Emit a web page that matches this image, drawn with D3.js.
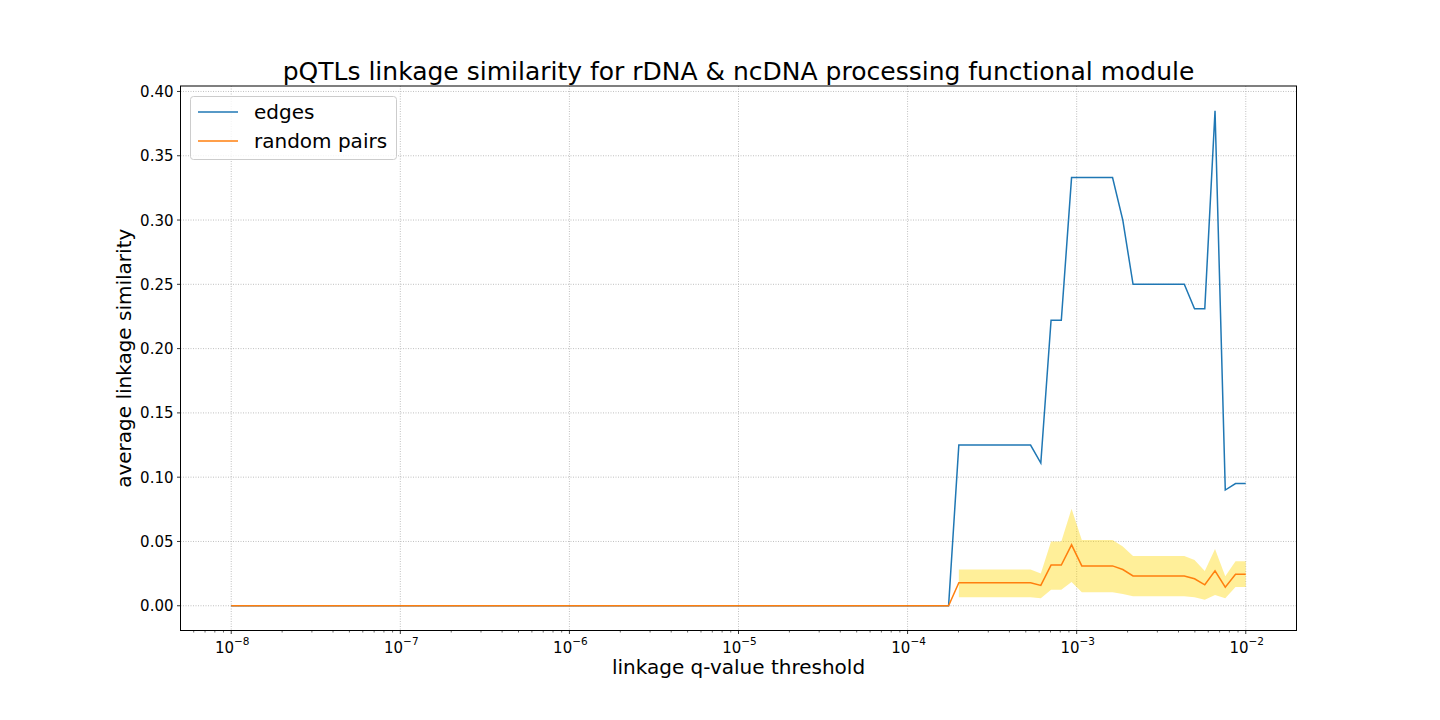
<!DOCTYPE html>
<html>
<head>
<meta charset="utf-8">
<script src="https://cdn.jsdelivr.net/npm/d3@7"></script>
<style>
  body { margin: 0; background: #fff; }
  svg { display: block; font-family: "DejaVu Sans", sans-serif; }
</style>
</head>
<body>
<svg id="chart" width="1440" height="720"></svg>
<script>
// ---- data ----
// q-value thresholds: 100 log-spaced thresholds from 1e-8 to 1e-2 (the evaluation grid)
const thresholdExpStart = -8, thresholdExpEnd = -2, thresholdCount = 100;
const thresholds = d3.range(thresholdCount).map(i =>
  Math.pow(10, thresholdExpStart + (thresholdExpEnd - thresholdExpStart) * i / (thresholdCount - 1)));

const edges = [
  0,0,0,0,0,0,0,0,0,0, 0,0,0,0,0,0,0,0,0,0,
  0,0,0,0,0,0,0,0,0,0, 0,0,0,0,0,0,0,0,0,0,
  0,0,0,0,0,0,0,0,0,0, 0,0,0,0,0,0,0,0,0,0,
  0,0,0,0,0,0,0,0,0,0, 0,
  0.125,0.125,0.125,0.125,0.125,0.125,0.125,0.125,
  0.111,
  0.222,0.222,
  0.333,0.333,0.333,0.333,0.333,
  0.30,
  0.25,0.25,0.25,0.25,0.25,0.25,
  0.231,0.231,
  0.385,
  0.09,
  0.095,0.095
];

const randomPairs = [
  0,0,0,0,0,0,0,0,0,0, 0,0,0,0,0,0,0,0,0,0,
  0,0,0,0,0,0,0,0,0,0, 0,0,0,0,0,0,0,0,0,0,
  0,0,0,0,0,0,0,0,0,0, 0,0,0,0,0,0,0,0,0,0,
  0,0,0,0,0,0,0,0,0,0, 0,
  0.0179,0.0179,0.0179,0.0179,0.0179,0.0179,0.0179,0.0179,
  0.0158,
  0.0316,0.0316,
  0.0474,
  0.031,0.031,0.031,0.031,
  0.0282,
  0.0232,0.0232,0.0232,0.0232,0.0232,0.0232,
  0.021,
  0.0163,
  0.0271,
  0.0145,
  0.0245,0.0245
];

const N = null;
const randomUpper = [
  N,N,N,N,N,N,N,N,N,N, N,N,N,N,N,N,N,N,N,N,
  N,N,N,N,N,N,N,N,N,N, N,N,N,N,N,N,N,N,N,N,
  N,N,N,N,N,N,N,N,N,N, N,N,N,N,N,N,N,N,N,N,
  N,N,N,N,N,N,N,N,N,N, N,
  0.0282,0.0282,0.0282,0.0282,0.0282,0.0282,0.0282,0.0282,
  0.025,
  0.05,0.05,
  0.0755,
  0.0511,0.0511,0.0511,0.0511,
  0.046,
  0.0387,0.0387,0.0387,0.0387,0.0387,0.0387,
  0.0355,
  0.0271,
  0.0442,
  0.0229,
  0.0347,0.0347
];
const randomLower = [
  N,N,N,N,N,N,N,N,N,N, N,N,N,N,N,N,N,N,N,N,
  N,N,N,N,N,N,N,N,N,N, N,N,N,N,N,N,N,N,N,N,
  N,N,N,N,N,N,N,N,N,N, N,N,N,N,N,N,N,N,N,N,
  N,N,N,N,N,N,N,N,N,N, N,
  0.0066,0.0066,0.0066,0.0066,0.0066,0.0066,0.0066,0.0066,
  0.0058,
  0.0124,0.0124,
  0.0184,
  0.0105,0.0105,0.0105,0.0105,
  0.0092,
  0.0074,0.0074,0.0074,0.0074,0.0074,0.0074,
  0.0066,
  0.0047,
  0.0084,
  0.0058,
  0.0145,0.0145
];

const xMajorTicks = [1e-8, 1e-7, 1e-6, 1e-5, 1e-4, 1e-3, 1e-2];
const xTickExponents = ["−8", "−7", "−6", "−5", "−4", "−3", "−2"];
const yTicks = [0.00, 0.05, 0.10, 0.15, 0.20, 0.25, 0.30, 0.35, 0.40];
const seriesNames = ["edges", "random pairs"];
const colors = ["#1f77b4", "#ff7f0e"];

// ---- layout ----
const margin = { left: 180.5, right: 1296.5, top: 86, bottom: 630.5 };
const svg = d3.select("#chart");

const x = d3.scaleLog()
  .domain([Math.pow(10, -8 - 0.3), Math.pow(10, -2 + 0.3)])
  .range([margin.left, margin.right]);
const yMin = -0.01925, yMax = 0.40425;
const y = d3.scaleLinear().domain([yMin, yMax]).range([margin.bottom, margin.top]);

// grid
const grid = svg.append("g");
grid.selectAll(".gx").data(xMajorTicks).join("line")
  .attr("x1", d => x(d)).attr("x2", d => x(d))
  .attr("y1", margin.top).attr("y2", margin.bottom)
  .attr("stroke", "#b0b0b0").attr("stroke-width", 0.8).attr("stroke-dasharray", "1,1.5");
grid.selectAll(".gy").data(yTicks).join("line")
  .attr("x1", margin.left).attr("x2", margin.right)
  .attr("y1", d => y(d)).attr("y2", d => y(d))
  .attr("stroke", "#b0b0b0").attr("stroke-width", 0.8).attr("stroke-dasharray", "1,1.5");

// band
const idx = d3.range(thresholds.length);
const area = d3.area()
  .defined(i => randomUpper[i] !== null && randomLower[i] !== null)
  .x(i => x(thresholds[i]))
  .y0(i => y(randomLower[i]))
  .y1(i => y(randomUpper[i]));
svg.append("path").attr("d", area(idx))
  .attr("fill", "gold").attr("fill-opacity", 0.4);

// lines
const lineFor = arr => d3.line().x(i => x(thresholds[i])).y(i => y(arr[i]))(idx);
svg.append("path").attr("d", lineFor(edges))
  .attr("fill", "none").attr("stroke", colors[0]).attr("stroke-width", 1.5);
svg.append("path").attr("d", lineFor(randomPairs))
  .attr("fill", "none").attr("stroke", colors[1]).attr("stroke-width", 1.5);

// axes frame
svg.append("rect")
  .attr("x", margin.left).attr("y", margin.top)
  .attr("width", margin.right - margin.left).attr("height", margin.bottom - margin.top)
  .attr("fill", "none").attr("stroke", "#000").attr("stroke-width", 1);

// x ticks
const xAxisG = svg.append("g");
const [d0, d1] = x.domain();
const minorTicks = [];
for (let e = -9; e <= -2; e++) {
  for (let m = 2; m <= 9; m++) {
    const v = m * Math.pow(10, e);
    if (v >= d0 && v <= d1) minorTicks.push(v);
  }
}
xAxisG.selectAll(".mt").data(minorTicks).join("line")
  .attr("x1", d => x(d)).attr("x2", d => x(d))
  .attr("y1", margin.bottom).attr("y2", margin.bottom + 2)
  .attr("stroke", "#000").attr("stroke-width", 0.6);
xAxisG.selectAll(".Mt").data(xMajorTicks).join("line")
  .attr("x1", d => x(d)).attr("x2", d => x(d))
  .attr("y1", margin.bottom).attr("y2", margin.bottom + 3.5)
  .attr("stroke", "#000").attr("stroke-width", 0.8);
const xl = xAxisG.selectAll(".xl").data(xMajorTicks).join("text")
  .attr("x", d => x(d) + 1).attr("y", margin.bottom + 22)
  .attr("text-anchor", "middle").attr("font-size", 15).attr("fill", "#000");
xl.append("tspan").text("10");
xl.append("tspan").text((d, i) => xTickExponents[i])
  .attr("font-size", 10.5).attr("dy", -7.5);

// y ticks
const yAxisG = svg.append("g");
yAxisG.selectAll(".yt").data(yTicks).join("line")
  .attr("x1", margin.left - 3.5).attr("x2", margin.left)
  .attr("y1", d => y(d)).attr("y2", d => y(d))
  .attr("stroke", "#000").attr("stroke-width", 0.8);
yAxisG.selectAll(".yl").data(yTicks).join("text")
  .attr("x", margin.left - 7).attr("y", d => y(d) + 5.5)
  .attr("text-anchor", "end").attr("font-size", 15).attr("fill", "#000")
  .text(d => d3.format(".2f")(d));

// labels
svg.append("text").attr("x", (margin.left + margin.right) / 2).attr("y", 80)
  .attr("text-anchor", "middle").attr("font-size", 25).attr("fill", "#000")
  .text("pQTLs linkage similarity for rDNA & ncDNA processing functional module");
svg.append("text").attr("x", (margin.left + margin.right) / 2).attr("y", 674)
  .attr("text-anchor", "middle").attr("font-size", 20).attr("fill", "#000")
  .text("linkage q-value threshold");
svg.append("text")
  .attr("transform", `translate(131, ${(margin.top + margin.bottom) / 2}) rotate(-90)`)
  .attr("text-anchor", "middle").attr("font-size", 20).attr("fill", "#000")
  .text("average linkage similarity");

// legend
const lg = svg.append("g");
lg.append("rect").attr("x", 190.5).attr("y", 96.5).attr("width", 206).attr("height", 63)
  .attr("rx", 3).attr("fill", "#fff").attr("fill-opacity", 0.8)
  .attr("stroke", "#cccccc").attr("stroke-width", 1);
seriesNames.forEach((name, i) => {
  const yy = 112 + i * 29;
  lg.append("line").attr("x1", 198).attr("x2", 238).attr("y1", yy).attr("y2", yy)
    .attr("stroke", colors[i]).attr("stroke-width", 1.5);
  lg.append("text").attr("x", 254).attr("y", yy + 7)
    .attr("font-size", 20).attr("fill", "#000").text(name);
});
</script>
</body>
</html>
